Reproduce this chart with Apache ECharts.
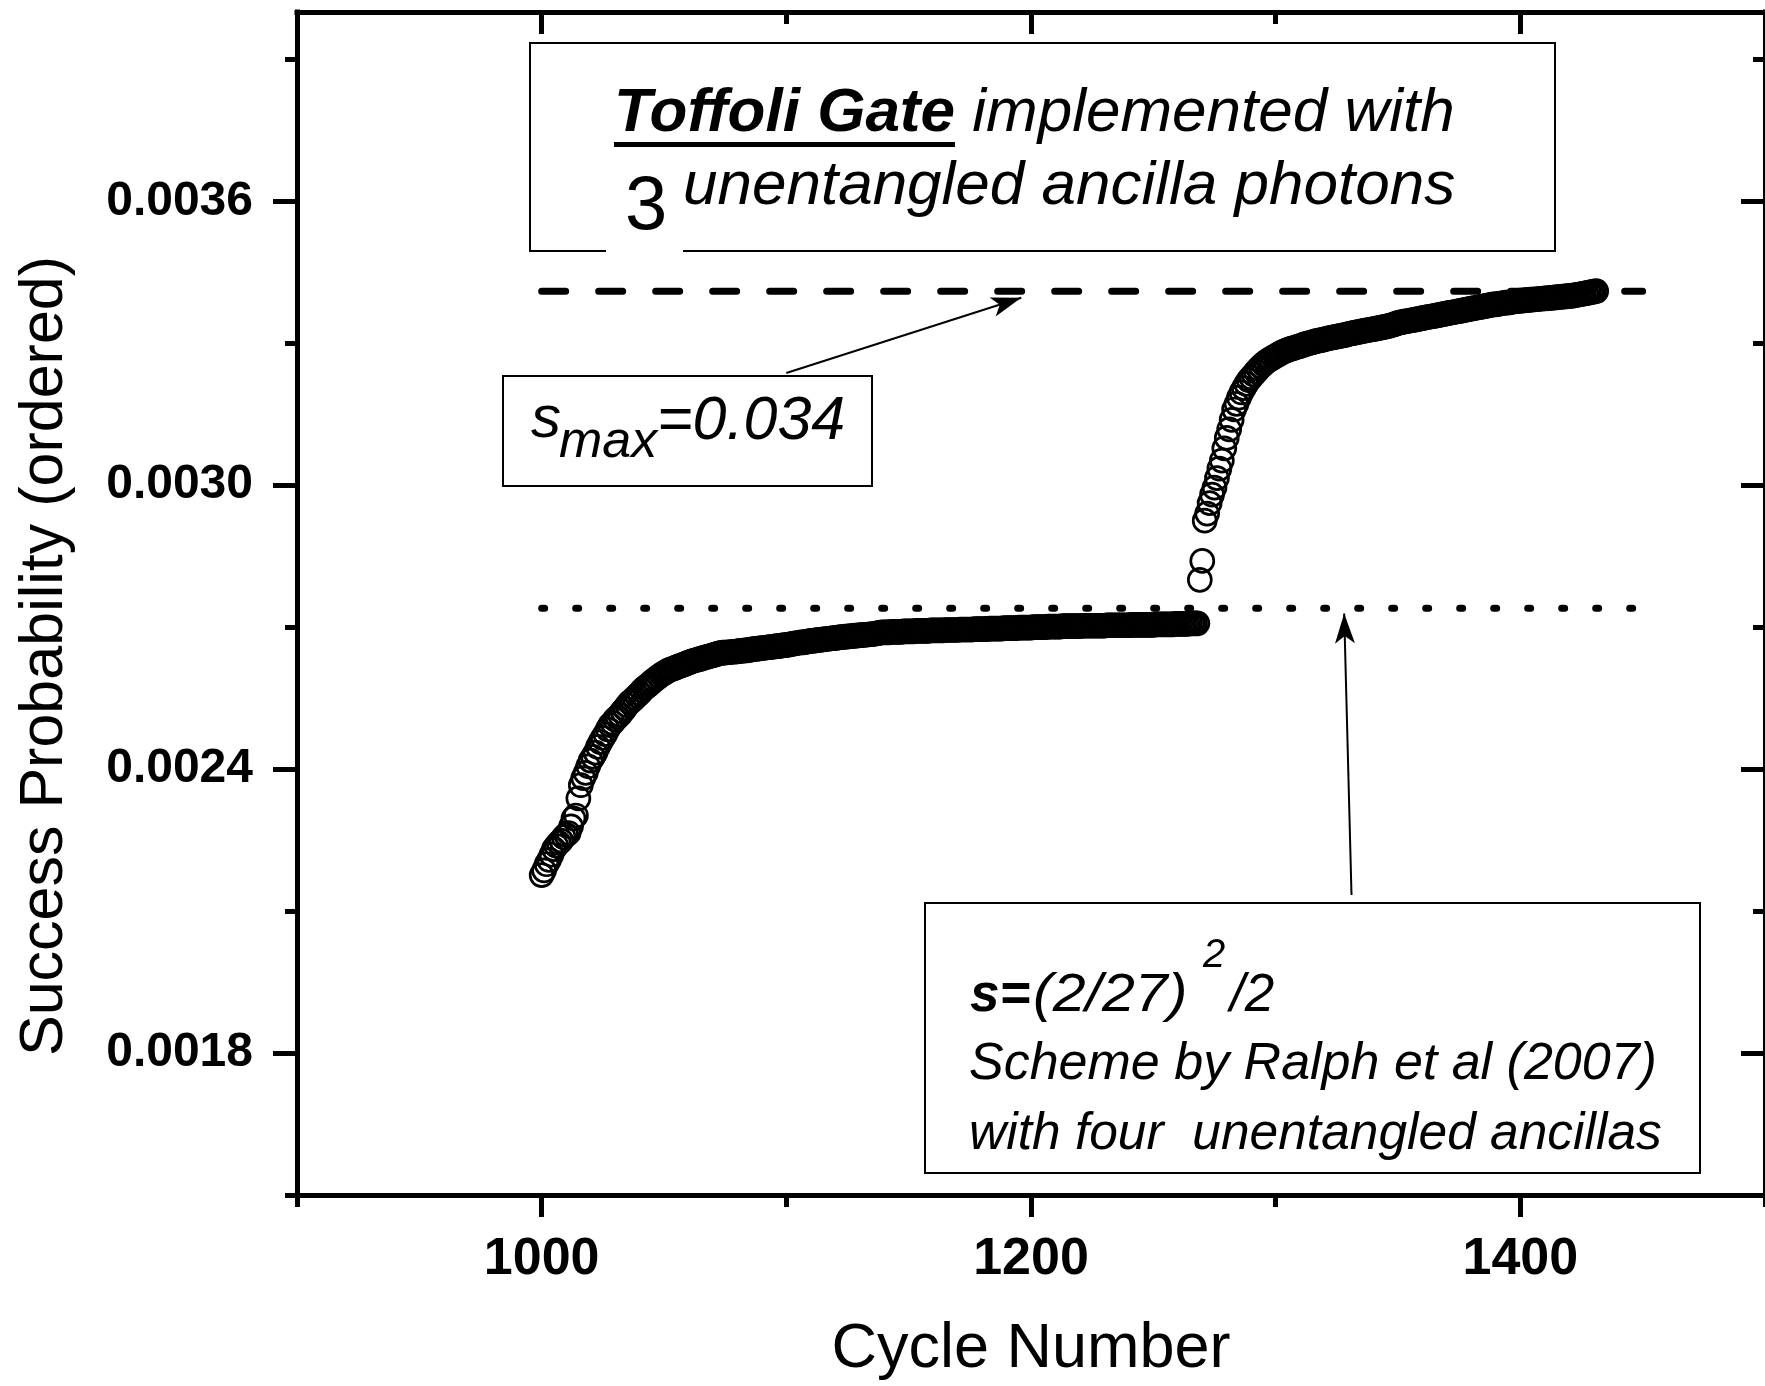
<!DOCTYPE html>
<html><head><meta charset="utf-8">
<script src="https://cdn.jsdelivr.net/npm/echarts@6/dist/echarts.min.js"></script>
<style>html,body{margin:0;padding:0;background:#fff}#chart{width:1765px;height:1386px}</style>
</head><body><div id="chart"></div>
<script>
// ---------------- data ----------------
const firstCycle = 1000;
// cycles 1000-1050
const lowerRise = [
0.002176,0.002186,0.002199,0.002208,0.002219,0.002231,0.002238,0.002244,0.002249,0.002256,
0.002261,0.002265,0.002279,0.002296,0.002302,0.002338,0.002366,0.002381,0.002392,0.002406,
0.002418,
0.002426,0.002435,0.002447,0.002457,0.002466,0.002474,0.002484,0.002493,0.002498,0.002505,
0.002510,0.002515,0.002522,0.002528,0.002535,0.002541,0.002545,0.002550,0.002555,0.002560,
0.002566,0.002571,0.002575,0.002579,0.002584,0.002588,0.002592,0.002596,0.002600,0.002603
];
// cycles 1051-1268
const lowerPlateau = [
0.002606,0.002609,0.002611,0.002613,0.002615,0.002617,0.002619,0.002621,0.002623,0.002625,
0.002627,0.002629,0.002630,0.002632,0.002633,0.002635,0.002636,0.002638,0.002639,0.002641,
0.002642,0.002644,0.002645,0.002646,0.002646,0.002647,0.002647,0.002648,0.002648,0.002649,
0.002650,0.002650,0.002651,0.002651,0.002652,0.002653,0.002654,0.002654,0.002655,0.002656,
0.002656,0.002657,0.002658,0.002658,0.002659,0.002660,0.002660,0.002661,0.002662,0.002662,
0.002663,0.002664,0.002665,0.002666,0.002667,0.002668,0.002668,0.002669,0.002670,0.002671,
0.002671,0.002672,0.002673,0.002673,0.002674,0.002675,0.002675,0.002676,0.002677,0.002677,
0.002678,0.002679,0.002679,0.002680,0.002680,0.002681,0.002681,0.002682,0.002682,0.002683,
0.002683,0.002684,0.002684,0.002685,0.002685,0.002686,0.002687,0.002688,0.002689,0.002689,
0.002689,0.002689,0.002690,0.002690,0.002690,0.002690,0.002690,0.002691,0.002691,0.002691,
0.002691,0.002691,0.002692,0.002692,0.002692,0.002692,0.002692,0.002692,0.002693,0.002693,
0.002693,0.002693,0.002693,0.002693,0.002694,0.002694,0.002694,0.002694,0.002694,0.002694,
0.002695,0.002695,0.002695,0.002695,0.002695,0.002695,0.002696,0.002696,0.002696,0.002696,
0.002696,0.002696,0.002697,0.002697,0.002697,0.002697,0.002697,0.002697,0.002698,0.002698,
0.002698,0.002698,0.002698,0.002698,0.002699,0.002699,0.002699,0.002699,0.002699,0.002699,
0.002700,0.002700,0.002700,0.002700,0.002700,0.002700,0.002701,0.002701,0.002701,0.002701,
0.002701,0.002701,0.002702,0.002702,0.002702,0.002702,0.002702,0.002702,0.002702,0.002702,
0.002703,0.002703,0.002703,0.002703,0.002703,0.002703,0.002703,0.002703,0.002703,0.002703,
0.002704,0.002704,0.002704,0.002704,0.002704,0.002704,0.002704,0.002704,0.002704,0.002704,
0.002705,0.002705,0.002705,0.002705,0.002705,0.002705,0.002705,0.002705,0.002705,0.002705,
0.002706,0.002706,0.002706,0.002706,0.002706,0.002706,0.002706,0.002706,0.002707,0.002707,
0.002707,0.002707,0.002707,0.002707,0.002708,0.002708,0.002708,0.002708
];
// cycles 1269-1296
const jump = [
0.002800,0.002840,0.002925,0.002940,0.002962,0.002980,0.002995,0.003015,0.003035,0.003052,
0.003078,0.003100,0.003118,0.003138,0.003160,0.003172,0.003185,0.003196,0.003205,0.003214,
0.003222,0.003228,0.003234,0.003240,0.003246,0.003251,0.003256,0.003260
];
// cycles 1297-1431
const upperPlateau = [
0.003264,0.003267,0.003270,0.003273,0.003276,0.003279,0.003282,
0.003284,0.003286,0.003288,0.003289,0.003291,0.003293,0.003294,0.003296,0.003298,0.003299,0.003301,0.003302,0.003304,
0.003305,0.003306,0.003307,0.003308,0.003310,0.003311,0.003312,0.003313,0.003314,0.003315,0.003316,0.003317,0.003318,0.003320,
0.003321,0.003322,0.003323,0.003324,0.003325,0.003326,0.003327,0.003328,0.003329,0.003330,
0.003331,0.003332,0.003333,0.003334,0.003335,0.003336,0.003338,0.003339,0.003341,0.003343,
0.003344,0.003345,0.003346,0.003347,0.003348,0.003349,0.003350,0.003351,0.003352,0.003353,
0.003354,0.003355,0.003356,0.003357,0.003358,0.003359,0.003360,0.003361,0.003362,0.003363,0.003364,
0.003365,0.003366,0.003367,0.003368,0.003369,0.003370,0.003371,0.003372,0.003373,0.003374,
0.003375,0.003376,0.003377,0.003378,0.003379,0.003380,0.003381,0.003382,0.003382,0.003383,
0.003384,0.003385,0.003386,0.003386,0.003387,0.003388,0.003389,
0.003389,0.003390,0.003390,0.003391,0.003391,0.003392,0.003392,0.003393,0.003393,0.003394,
0.003394,0.003395,0.003395,0.003396,0.003396,0.003397,0.003397,0.003398,0.003398,0.003399,
0.003399,0.003400,0.003400,0.003401,0.003402,0.003403,0.003404,
0.003405,0.003406,0.003407,0.003408,0.003409,0.003410
];
const smaxLevel = 0.00341;          // dashed line
const ralphLevel = 0.00274;         // dotted line, (2/27)^2/2
const refLineCycles = [1000, 1450];
const smaxArrow = [[1100, 0.003237], [1196, 0.003396]];
const ralphArrow = [[1331, 0.002134], [1328, 0.002729]];
const xMajorTicks = [1000, 1200, 1400];
const xMinorTicks = [900, 1100, 1300, 1500];
const yMajorTicks = [0.0018, 0.0024, 0.0030, 0.0036];
const yMinorTicks = [0.0015, 0.0021, 0.0027, 0.0033, 0.0039];

// ---------------- chart ----------------
const FF = '"Liberation Sans", Arial, sans-serif';
const probs = lowerRise.concat(lowerPlateau, jump, upperPlateau);
const points = probs.map((v, i) => [firstCycle + i, v]);

const chart = echarts.init(document.getElementById('chart'), null, {renderer: 'canvas'});
const black = '#000';
const lineSt = {color: black, width: 5, cap: 'square'};
const tickSt = {color: black, width: 5};

function xAx(pos, ticks, len, inside, showLine, extra) {
  return Object.assign({
    type: 'value', position: pos, min: 900, max: 1500, interval: 100,
    axisLine: {show: showLine, onZero: false, lineStyle: lineSt},
    axisTick: {show: true, inside: inside, length: len, customValues: ticks, lineStyle: tickSt},
    axisLabel: {show: false}, splitLine: {show: false}
  }, extra || {});
}
function yAx(pos, ticks, len, inside, showLine, extra) {
  return Object.assign({
    type: 'value', position: pos, min: 0.0015, max: 0.0040, interval: 0.0003,
    axisLine: {show: showLine, onZero: false, lineStyle: lineSt},
    axisTick: {show: true, inside: inside, length: len, customValues: ticks, lineStyle: tickSt},
    axisLabel: {show: false}, splitLine: {show: false}
  }, extra || {});
}

const option = {
  animation: false,
  backgroundColor: '#fff',
  grid: {left: 297, right: -2, top: 12, bottom: 191, containLabel: false},
  xAxis: [
    xAx('bottom', xMajorTicks, 22, false, true, {
      axisLabel: {show: true, customValues: xMajorTicks, margin: 39, fontFamily: FF, fontWeight: 'bold', fontSize: 52, color: black,
        formatter: v => String(v)},
      name: 'Cycle Number', nameLocation: 'middle', nameGap: 123,
      nameTextStyle: {fontFamily: FF, fontSize: 63, color: black}
    }),
    xAx('bottom', xMinorTicks, 12, false, false),
    xAx('top', xMajorTicks, 22, true, true),
    xAx('top', xMinorTicks, 12, true, false)
  ],
  yAxis: [
    yAx('left', yMajorTicks, 24, false, true, {
      axisLabel: {show: true, customValues: yMajorTicks, margin: 44, fontFamily: FF, fontWeight: 'bold', fontSize: 48, color: black,
        formatter: v => v.toFixed(4)},
      name: 'Success Probability (ordered)', nameLocation: 'middle', nameGap: 221,
      nameTextStyle: {fontFamily: FF, fontSize: 61, color: black, padding: [0, 105, 0, 0]}
    }),
    yAx('left', yMinorTicks, 12, false, false),
    yAx('right', yMajorTicks, 24, true, true),
    yAx('right', yMinorTicks, 12, true, false)
  ],
  series: [
    {
      type: 'line', name: 'smax', data: refLineCycles.map(c => [c, smaxLevel]),
      showSymbol: false, symbol: 'none', silent: true,
      lineStyle: {color: black, width: 7, type: [24, 33], cap: 'round'},
      markLine: {
        silent: true, symbol: ['none', 'arrow'], symbolSize: [15, 30],
        label: {show: false}, lineStyle: {color: black, width: 2, type: 'solid'},
        data: [[{coord: smaxArrow[0]}, {coord: smaxArrow[1]}]]
      }
    },
    {
      type: 'line', name: 'ralph', data: refLineCycles.map(c => [c, ralphLevel]),
      showSymbol: false, symbol: 'none', silent: true,
      lineStyle: {color: black, width: 7, type: [3, 31], cap: 'round'},
      markLine: {
        silent: true, symbol: ['none', 'arrow'], symbolSize: [15, 30],
        label: {show: false}, lineStyle: {color: black, width: 2, type: 'solid'},
        data: [[{coord: ralphArrow[0]}, {coord: ralphArrow[1]}]]
      }
    },
    {
      type: 'scatter', name: 'success', data: points, symbol: 'circle', symbolSize: 23,
      silent: true, large: false,
      itemStyle: {color: 'rgba(255,255,255,0)', borderColor: black, borderWidth: 2.7, opacity: 1}
    }
  ]
};
chart.setOption(option);

// ---------------- annotations ----------------
const mctx = document.createElement('canvas').getContext('2d');
function tw(font, s) { mctx.font = font; return mctx.measureText(s).width; }
function fnt(size, style, weight) { return (style || 'normal') + ' ' + (weight || 'normal') + ' ' + size + 'px ' + FF; }
function txt(s, x, baseline, size, style, weight, sx) {
  return {type: 'text', z: 20, silent: true, x: x, y: baseline - 0.3465 * size, scaleX: sx || 1,
    style: {text: s, x: 0, y: 0, font: fnt(size, style, weight), fill: black, align: 'left', verticalAlign: 'middle'}};
}
const wToffoli = tw(fnt(62, 'italic', 'bold'), 'Toffoli Gate');

chart.setOption({
  graphic: [
    {type: 'rect', z: 10, silent: true, shape: {x: 530, y: 43, width: 1025, height: 208}, style: {fill: '#fff', stroke: black, lineWidth: 2}},
    {type: 'rect', z: 11, silent: true, shape: {x: 606, y: 244, width: 77, height: 12}, style: {fill: '#fff'}},
    txt('Toffoli Gate', 614, 135, 62, 'italic', 'bold'),
    {type: 'rect', z: 20, silent: true, shape: {x: 614, y: 142, width: wToffoli, height: 5}, style: {fill: black}},
    txt(' implemented with', 614 + wToffoli, 135, 62, 'italic'),
    txt('3', 625, 234, 76),
    txt('unentangled ancilla photons', 683, 208, 62, 'italic'),

    {type: 'rect', z: 10, silent: true, shape: {x: 503, y: 376, width: 369, height: 110}, style: {fill: '#fff', stroke: black, lineWidth: 2}},
    txt('s', 531, 441, 60, 'italic'),
    txt('max', 559, 461, 52, 'italic'),
    txt('=0.034', 657, 443, 61, 'italic'),

    {type: 'rect', z: 10, silent: true, shape: {x: 925, y: 903, width: 775, height: 270}, style: {fill: '#fff', stroke: black, lineWidth: 2}},
    txt('s=', 970, 1015, 53, 'italic', 'bold'),
    txt('(2/27)', 1033, 1015, 53, 'italic', 'normal', 1.115),
    txt('2', 1203, 970, 40, 'italic'),
    txt('/2', 1230, 1015, 53, 'italic'),
    txt('Scheme by Ralph et al (2007)', 969, 1083, 52, 'italic'),
    txt('with four  unentangled ancillas', 969, 1153, 51.5, 'italic')
  ]
});
</script></body></html>
